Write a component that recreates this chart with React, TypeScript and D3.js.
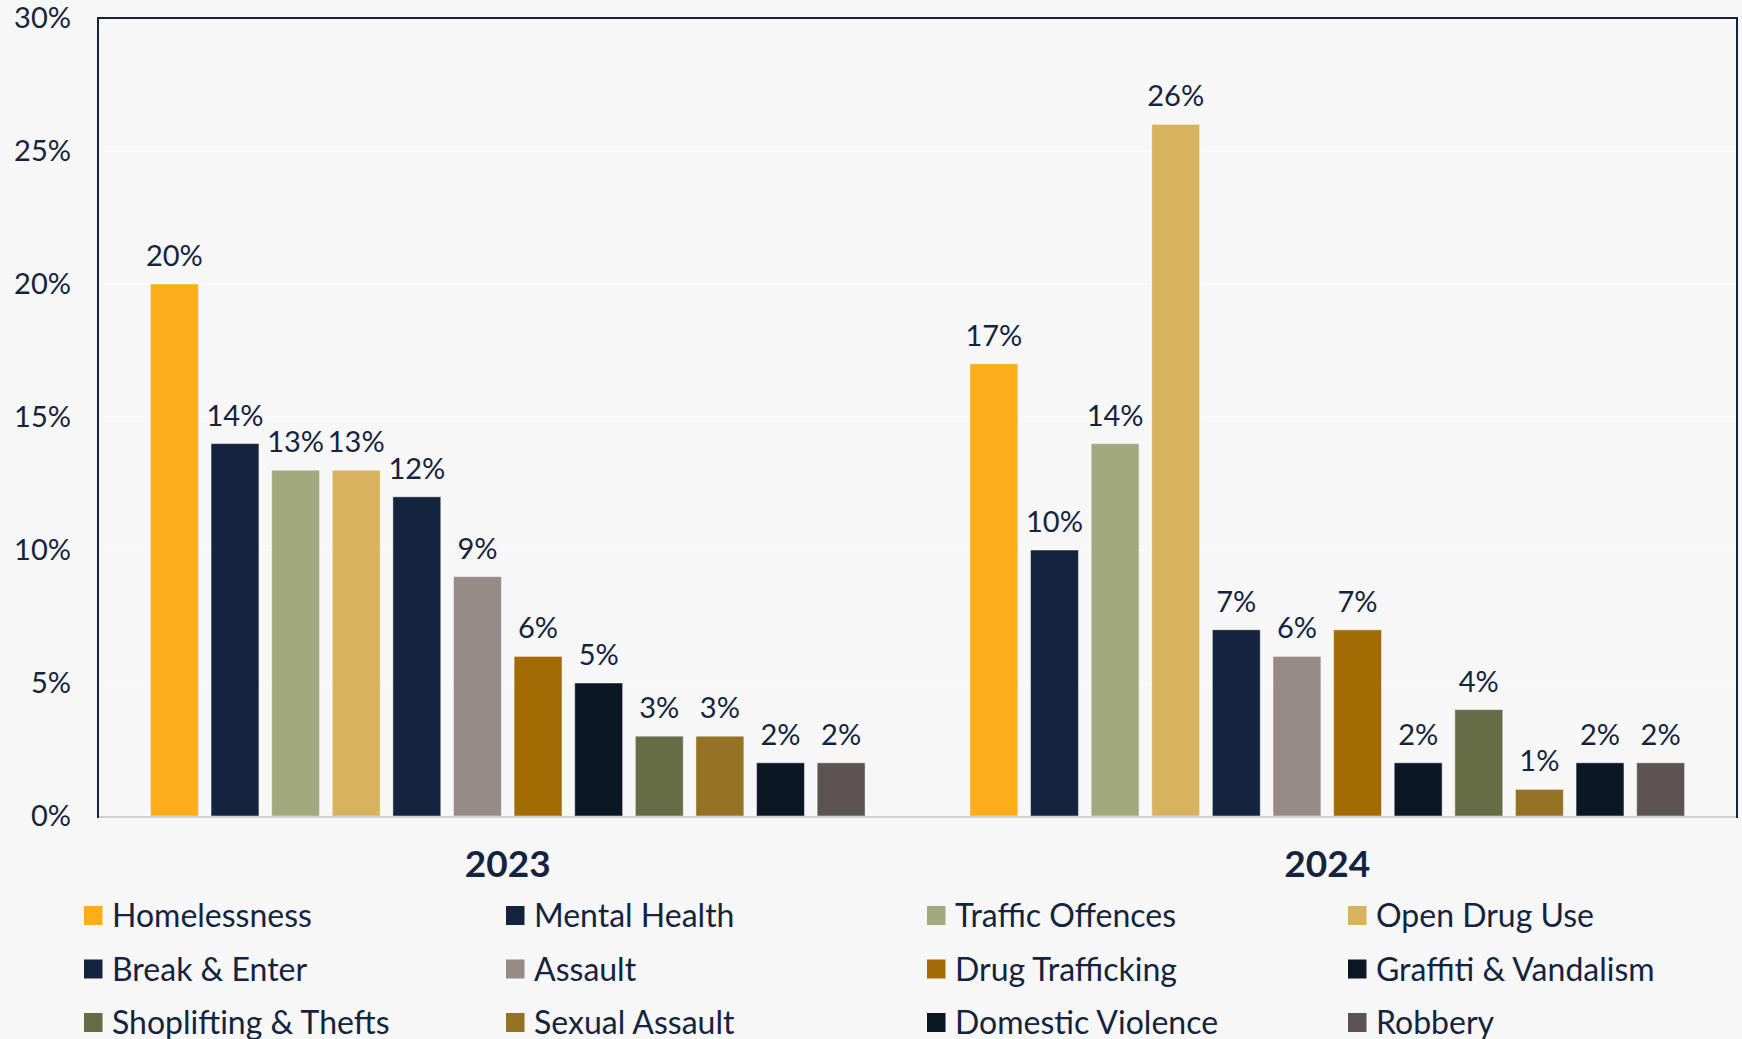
import React from "react";
import * as d3 from "d3";

const years = ["2023", "2024"];
const categories = [
  "Homelessness",
  "Mental Health",
  "Traffic Offences",
  "Open Drug Use",
  "Break & Enter",
  "Assault",
  "Drug Trafficking",
  "Graffiti & Vandalism",
  "Shoplifting & Thefts",
  "Sexual Assault",
  "Domestic Violence",
  "Robbery",
];
const colors = [
  "#FCAE1A",
  "#15243E",
  "#A3A97F",
  "#D8B25F",
  "#15243E",
  "#978B88",
  "#A36B03",
  "#0C1726",
  "#666C45",
  "#957124",
  "#0C1726",
  "#5C5354",
];
const values2023 = [20, 14, 13, 13, 12, 9, 6, 5, 3, 3, 2, 2];
const values2024 = [17, 10, 14, 26, 7, 6, 7, 2, 4, 1, 2, 2];
const seriesByYear: Record<string, number[]> = { "2023": values2023, "2024": values2024 };
const yTicks = [0, 5, 10, 15, 20, 25, 30];

const W = 1742;
const H = 1039;
const left = 98;
const right = 1737;
const top = 18;
const bottom = 816;
const navy = "#15243E";
const font = "Lato, 'Noto Sans', sans-serif";

export default function App() {
  const y = d3.scaleLinear().domain([0, 30]).range([bottom, top]);
  const x0 = d3.scaleBand<string>().domain(years).range([left, right]).padding(0);
  const x1 = d3
    .scaleBand<string>()
    .domain(categories)
    .range([0, x0.bandwidth()])
    .paddingInner(0.21)
    .paddingOuter(0.865);

  const legendCols = [84, 506, 927, 1348];
  const legendRows = [915.5, 969, 1022.5];

  return (
    <div style={{ position: "fixed", left: 0, top: 0, width: W, height: H, background: "#F7F7F7" }}>
      <svg width={W} height={H} style={{ display: "block" }}>
        <rect x={0} y={0} width={W} height={H} fill="#F7F7F7" />
        {yTicks.map((t) => (
          <g key={t}>
            {t > 0 && t < 30 && (
              <line x1={left} x2={right} y1={y(t)} y2={y(t)} stroke="#FDFDFD" strokeWidth={1.5} />
            )}
            <text
              x={71}
              y={y(t)}
              dy="0.36em"
              textAnchor="end"
              fontFamily={font}
              fontSize={29}
              fill={navy}
            >
              {t}%
            </text>
          </g>
        ))}
        {years.map((yr) => (
          <g key={yr} transform={`translate(${x0(yr)},0)`}>
            {seriesByYear[yr].map((v, i) => {
              const c = categories[i];
              const bx = x1(c)!;
              return (
                <g key={c}>
                  <rect
                    x={bx}
                    y={y(v)}
                    width={x1.bandwidth()}
                    height={bottom - y(v)}
                    fill={colors[i]}
                    stroke="rgba(255,255,255,0.45)"
                    strokeWidth={1}
                  />
                  <text
                    x={bx + x1.bandwidth() / 2}
                    y={y(v) - 18}
                    textAnchor="middle"
                    fontFamily={font}
                    fontSize={29}
                    fill={navy}
                  >
                    {v}%
                  </text>
                </g>
              );
            })}
            <text
              x={x0.bandwidth() / 2}
              y={877}
              textAnchor="middle"
              fontFamily={font}
              fontWeight={700}
              fontSize={37}
              fill={navy}
            >
              {yr}
            </text>
          </g>
        ))}
        <line x1={left} x2={right} y1={bottom + 1} y2={bottom + 1} stroke="#D0D0D0" strokeWidth={2} />
        <path
          d={`M${left},${bottom + 2}V${top}H${right}V${bottom + 2}`}
          fill="none"
          stroke={navy}
          strokeWidth={2}
        />
        {categories.map((c, i) => {
          const col = i % 4;
          const row = Math.floor(i / 4);
          const lx = legendCols[col];
          const ly = legendRows[row];
          return (
            <g key={c}>
              <rect x={lx} y={ly - 9.5} width={18.5} height={19} fill={colors[i]} />
              <text x={lx + 28} y={ly + 11.5} fontFamily={font} fontSize={32} fill={navy}>
                {c}
              </text>
            </g>
          );
        })}
      </svg>
    </div>
  );
}
